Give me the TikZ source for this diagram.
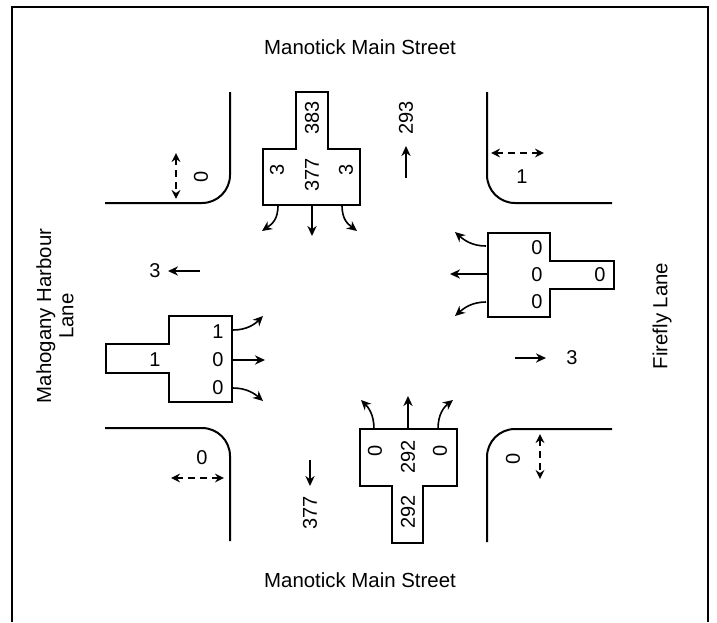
\documentclass[tikz,border=0pt]{standalone}
\usepackage{fontspec}
\setmainfont{Liberation Sans}
\usetikzlibrary{
  arrows.meta,
  positioning
}
\tikzset{
  frameline/.style={
    draw=black, line width=1.2pt
  },
  curbline/.style={
    draw=black, line width=1pt, rounded corners=14pt
  },
  lanebox/.style={
    draw=black, line width=1pt
  },
  movearrow/.style={
    -{Stealth[length=5pt,width=4.6pt,inset=1.6pt]},
    draw=black, line width=0.8pt
  },
  pedarrow/.style={
    {Stealth[length=4.5pt,width=4.4pt,inset=1.5pt]}-{Stealth[length=4.5pt,width=4.4pt,inset=1.5pt]},
    draw=black, dash pattern=on 3.5pt off 2.5pt, line width=0.8pt
  },
  countlabel/.style={
    font=\fontsize{10}{11.5}\selectfont, inner sep=0pt
  },
  streetlabel/.style={
    font=\fontsize{10.2}{11.2}\selectfont, align=center, inner sep=0pt
  },
}

\begin{document}
\begin{tikzpicture}[x=0.5pt, y=-0.5pt]

  \useasboundingbox (0,0) rectangle (717,622);

  %% Frame
  \draw[frameline] (12,622) -- (12,7) -- (708,7) -- (708,622);

  %% Street names
  \node[streetlabel] (mmsn) at (360,47) {Manotick Main Street};
  \node[streetlabel] (mmss) at (360,580) {Manotick Main Street};
  \node[streetlabel, rotate=90] (mhl) at (55,316) {Mahogany Harbour\\Lane};
  \node[streetlabel, rotate=90] (ffl) at (662,316) {Firefly Lane};

  %% Curbs
  \draw[curbline] (105,203) -- (230,203) -- (230,92);
  \draw[curbline] (612,203) -- (487,203) -- (487,92);
  \draw[curbline] (105,428) -- (230,428) -- (230,541);
  \draw[curbline] (612,429) -- (487,429) -- (487,542);

  %% Pedestrian crossings
  \draw[pedarrow] (176,153) -- (176,199);
  \node[countlabel, rotate=90] (pnw) at (201,177) {0};
  \draw[pedarrow] (491,153) -- (544,153);
  \node[countlabel] (pne) at (522,177) {1};
  \draw[pedarrow] (171,478) -- (224,478);
  \node[countlabel] (psw) at (202,458) {0};
  \draw[pedarrow] (540,434) -- (540,479);
  \node[countlabel, rotate=90] (pse) at (513,459) {0};

  %% North approach
  \draw[lanebox] (296,92) -- (328,92) -- (328,149) -- (360,149) -- (360,205)
    -- (263,205) -- (263,149) -- (296,149) -- cycle;
  \node[countlabel, rotate=90] (nin) at (312,118) {383};
  \node[countlabel, rotate=90] (nr) at (277,170) {3};
  \node[countlabel, rotate=90] (nt) at (312,175) {377};
  \node[countlabel, rotate=90] (nl) at (346,170) {3};
  \draw[movearrow] (312,205) -- (312,236);
  \draw[movearrow] (278,205) .. controls (278,220) and (272,224) .. (262,231);
  \draw[movearrow] (342,205) .. controls (342,220) and (348,224) .. (357,231);

  %% South approach
  \draw[lanebox] (360,429) -- (457,429) -- (457,486) -- (423,486) -- (423,543)
    -- (392,543) -- (392,486) -- (360,486) -- cycle;
  \node[countlabel, rotate=90] (sl) at (375,451) {0};
  \node[countlabel, rotate=90] (st) at (408,457) {292};
  \node[countlabel, rotate=90] (sr) at (440,451) {0};
  \node[countlabel, rotate=90] (sin) at (408,512) {292};
  \draw[movearrow] (408,429) -- (408,396);
  \draw[movearrow] (374,429) .. controls (374,414) and (368,407) .. (361,400);
  \draw[movearrow] (438,429) .. controls (438,414) and (444,407) .. (453,400);

  %% East approach
  \draw[lanebox] (488,233) -- (550,233) -- (550,261) -- (614,261) -- (614,289)
    -- (550,289) -- (550,317) -- (488,317) -- cycle;
  \node[countlabel] (er) at (537,248) {0};
  \node[countlabel] (et) at (537,275) {0};
  \node[countlabel] (el) at (537,302) {0};
  \node[countlabel] (ein) at (600,275) {0};
  \draw[movearrow] (488,274) -- (450,274);
  \draw[movearrow] (486,246) .. controls (472,246) and (464,240) .. (455,232);
  \draw[movearrow] (486,302) .. controls (472,302) and (464,308) .. (455,316);

  %% West approach
  \draw[lanebox] (169,316) -- (232,316) -- (232,402) -- (169,402) -- (169,373)
    -- (106,373) -- (106,344) -- (169,344) -- cycle;
  \node[countlabel] (wl) at (218,332) {1};
  \node[countlabel] (wt) at (218,360) {0};
  \node[countlabel] (wr) at (218,388) {0};
  \node[countlabel] (win) at (155,360) {1};
  \draw[movearrow] (232,360) -- (265,360);
  \draw[movearrow] (233,330) .. controls (247,330) and (255,324) .. (263,316);
  \draw[movearrow] (233,388) .. controls (247,388) and (255,394) .. (263,401);

  %% Departing volumes
  \node[countlabel, rotate=90] (nout) at (406,118) {293};
  \draw[movearrow] (406,178) -- (406,146);
  \node[countlabel] (wout) at (155,271) {3};
  \draw[movearrow] (200,271) -- (168,271);
  \node[countlabel] (eout) at (572,358) {3};
  \draw[movearrow] (515,358) -- (546,358);
  \node[countlabel, rotate=90] (sout) at (310,513) {377};
  \draw[movearrow] (310,460) -- (310,486);

\end{tikzpicture}
\end{document}
